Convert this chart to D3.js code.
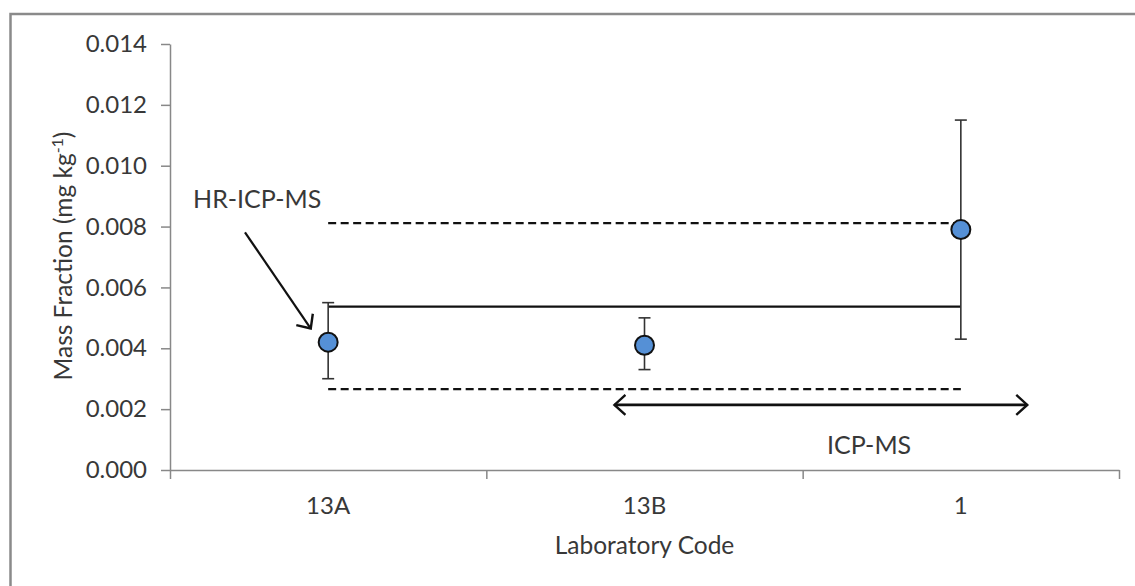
<!DOCTYPE html>
<html>
<head>
<meta charset="utf-8">
<script src="https://cdn.jsdelivr.net/npm/d3@7"></script>
<style>
  body { margin: 0; background: #fff; }
  text { font-family: Lato, "Open Sans", sans-serif; fill: #383838; }
</style>
</head>
<body>
<div id="chart"></div>
<script>
// laboratorijske kode in izmerjene vrednosti
const labs = ["13A", "13B", "1"];
const values = [0.0042, 0.0041, 0.0079];
const upperErr = [0.0055, 0.0050, 0.0115];
const lowerErr = [0.0030, 0.0033, 0.0043];

// referenčne črte
const meanValue = 0.00537;
const upperLimit = 0.00811;
const lowerLimit = 0.00266;

const yTicks = [0, 0.002, 0.004, 0.006, 0.008, 0.010, 0.012, 0.014];

const width = 1135;
const height = 586;
const margin = { top: 44, right: 16, bottom: 116, left: 170 };

const svg = d3.select("#chart").append("svg")
  .attr("width", width)
  .attr("height", height);

// okvir
svg.append("path")
  .attr("d", `M10.5,${height} V14 H${width}`)
  .attr("fill", "none")
  .attr("stroke", "#8a8a8a")
  .attr("stroke-width", 2.5);

const x = d3.scaleBand()
  .domain(labs)
  .range([margin.left, width - margin.right]);

const xEdge = d3.scaleLinear()
  .domain([0, labs.length])
  .range([margin.left, width - margin.right]);

const y = d3.scaleLinear()
  .domain([0, 0.014])
  .range([height - margin.bottom, margin.top]);

const cx = d => x(d) + x.bandwidth() / 2;

// os y
const gy = svg.append("g")
  .attr("transform", `translate(${margin.left},0)`)
  .call(d3.axisLeft(y).tickValues(yTicks).tickFormat(d3.format(".3f")).tickSize(9).tickSizeOuter(0).tickPadding(14));
gy.select(".domain").attr("stroke", "#888").attr("stroke-width", 1.5);
gy.selectAll(".tick line").attr("stroke", "#888").attr("stroke-width", 1.5);
gy.selectAll("text").style("font-size", "24px").style("fill", "#383838");

// os x - oznake med kategorijami
const gx = svg.append("g")
  .attr("transform", `translate(0,${y(0)})`)
  .call(d3.axisBottom(xEdge).tickValues([0, 1, 2, 3]).tickFormat("").tickSize(9).tickSizeOuter(0));
gx.select(".domain").attr("stroke", "#888").attr("stroke-width", 1.5);
gx.selectAll(".tick line").attr("stroke", "#888").attr("stroke-width", 1.5);

svg.append("g")
  .selectAll("text")
  .data(labs)
  .join("text")
  .attr("x", d => cx(d))
  .attr("y", y(0) + 44)
  .attr("text-anchor", "middle")
  .style("font-size", "24px")
  .text(d => d);

// naslovi osi
svg.append("text")
  .attr("x", xEdge(1.5))
  .attr("y", 554)
  .attr("text-anchor", "middle")
  .style("font-size", "24.5px")
  .text("Laboratory Code");

const yt = svg.append("text")
  .attr("transform", `translate(72,${256}) rotate(-90)`)
  .attr("text-anchor", "middle")
  .style("font-size", "24.5px");
yt.append("tspan").text("Mass Fraction (mg kg");
yt.append("tspan").attr("dy", -9).style("font-size", "16px").text("-1");
yt.append("tspan").attr("dy", 9).text(")");

// referenčne črte
const first = cx(labs[0]);
const last = cx(labs[labs.length - 1]);

svg.append("line")
  .attr("x1", first).attr("x2", last)
  .attr("y1", y(meanValue)).attr("y2", y(meanValue))
  .attr("stroke", "#111").attr("stroke-width", 2.2);

[upperLimit, lowerLimit].forEach(v => {
  svg.append("line")
    .attr("x1", first).attr("x2", last)
    .attr("y1", y(v)).attr("y2", y(v))
    .attr("stroke", "#111").attr("stroke-width", 2.2)
    .attr("stroke-dasharray", "8,4.5");
});

// napake
const err = svg.append("g").attr("stroke", "#333").attr("stroke-width", 1.6);
labs.forEach((d, i) => {
  err.append("line")
    .attr("x1", cx(d)).attr("x2", cx(d))
    .attr("y1", y(upperErr[i])).attr("y2", y(lowerErr[i]));
  [upperErr[i], lowerErr[i]].forEach(v => {
    err.append("line")
      .attr("x1", cx(d) - 6).attr("x2", cx(d) + 6)
      .attr("y1", y(v)).attr("y2", y(v));
  });
});

// točke
svg.append("g")
  .selectAll("circle")
  .data(labs)
  .join("circle")
  .attr("cx", d => cx(d))
  .attr("cy", (d, i) => y(values[i]))
  .attr("r", 9.5)
  .attr("fill", "#5590d6")
  .attr("stroke", "#111")
  .attr("stroke-width", 2);

// puščice
svg.append("defs").append("marker")
  .attr("id", "open")
  .attr("viewBox", "-12 -12 24 24")
  .attr("markerUnits", "userSpaceOnUse")
  .attr("markerWidth", 24)
  .attr("markerHeight", 24)
  .attr("orient", "auto-start-reverse")
  .append("path")
  .attr("d", "M-11,-10 L0,0 L-11,10")
  .attr("fill", "none")
  .attr("stroke", "#111")
  .attr("stroke-width", 2.4);

// ICP-MS
const arrowY = 0.00214;
svg.append("line")
  .attr("x1", xEdge(1.405)).attr("x2", xEdge(2.71))
  .attr("y1", y(arrowY)).attr("y2", y(arrowY))
  .attr("stroke", "#111").attr("stroke-width", 2.6)
  .attr("marker-start", "url(#open)")
  .attr("marker-end", "url(#open)");

svg.append("text")
  .attr("x", xEdge(2.21))
  .attr("y", 454)
  .attr("text-anchor", "middle")
  .style("font-size", "25px")
  .text("ICP-MS");

// HR-ICP-MS
svg.append("text")
  .attr("x", xEdge(0.073))
  .attr("y", 208)
  .style("font-size", "25px")
  .text("HR-ICP-MS");

svg.append("line")
  .attr("x1", xEdge(0.237)).attr("y1", y(0.00781))
  .attr("x2", xEdge(0.445)).attr("y2", y(0.00465))
  .attr("stroke", "#111").attr("stroke-width", 2.2)
  .attr("marker-end", "url(#open)");
</script>
</body>
</html>
